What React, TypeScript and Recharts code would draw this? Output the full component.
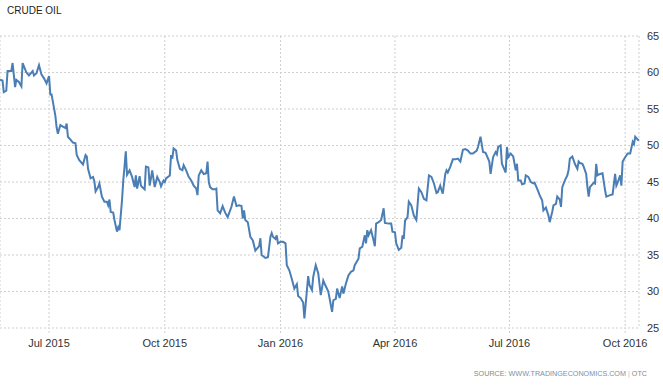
import React from 'react';
import { LineChart, Line, XAxis, YAxis, CartesianGrid } from 'recharts';

// --- Data ---

const dates = [
    '2015-05-23', '2015-05-25', '2015-05-26', '2015-05-28', '2015-05-29', '2015-06-01', '2015-06-02', '2015-06-04',
    '2015-06-05', '2015-06-07', '2015-06-09', '2015-06-10', '2015-06-13', '2015-06-15', '2015-06-18', '2015-06-19',
    '2015-06-21', '2015-06-23', '2015-06-25', '2015-06-27', '2015-06-29', '2015-07-01', '2015-07-02', '2015-07-03',
    '2015-07-06', '2015-07-07', '2015-07-08', '2015-07-10', '2015-07-12', '2015-07-14', '2015-07-15', '2015-07-16',
    '2015-07-18', '2015-07-20', '2015-07-22', '2015-07-23', '2015-07-25', '2015-07-28', '2015-07-30', '2015-07-31',
    '2015-08-01', '2015-08-03', '2015-08-05', '2015-08-06', '2015-08-07', '2015-08-09', '2015-08-10', '2015-08-12',
    '2015-08-14', '2015-08-16', '2015-08-17', '2015-08-18', '2015-08-19', '2015-08-21', '2015-08-22', '2015-08-24',
    '2015-08-25', '2015-08-26', '2015-08-28', '2015-08-29', '2015-08-30', '2015-08-31', '2015-09-01', '2015-09-03',
    '2015-09-05', '2015-09-07', '2015-09-08', '2015-09-09', '2015-09-11', '2015-09-12', '2015-09-13', '2015-09-15',
    '2015-09-16', '2015-09-18', '2015-09-19', '2015-09-20', '2015-09-21', '2015-09-23', '2015-09-25', '2015-09-27',
    '2015-09-28', '2015-09-30', '2015-10-01', '2015-10-02', '2015-10-05', '2015-10-06', '2015-10-07', '2015-10-08',
    '2015-10-10', '2015-10-11', '2015-10-13', '2015-10-15', '2015-10-16', '2015-10-18', '2015-10-20', '2015-10-22',
    '2015-10-24', '2015-10-26', '2015-10-27', '2015-10-28', '2015-10-30', '2015-11-01', '2015-11-03', '2015-11-04',
    '2015-11-05', '2015-11-06', '2015-11-08', '2015-11-10', '2015-11-11', '2015-11-12', '2015-11-14', '2015-11-16',
    '2015-11-18', '2015-11-20', '2015-11-23', '2015-11-25', '2015-11-27', '2015-11-29', '2015-12-01', '2015-12-02',
    '2015-12-03', '2015-12-04', '2015-12-06', '2015-12-08', '2015-12-10', '2015-12-12', '2015-12-14', '2015-12-15',
    '2015-12-16', '2015-12-17', '2015-12-20', '2015-12-22', '2015-12-24', '2015-12-25', '2015-12-26', '2015-12-28',
    '2015-12-29', '2015-12-30', '2016-01-01', '2016-01-03', '2016-01-05', '2016-01-06', '2016-01-08', '2016-01-10',
    '2016-01-12', '2016-01-14', '2016-01-15', '2016-01-17', '2016-01-19', '2016-01-20', '2016-01-23', '2016-01-24',
    '2016-01-26', '2016-01-27', '2016-01-29', '2016-01-31', '2016-02-02', '2016-02-04', '2016-02-05', '2016-02-08',
    '2016-02-11', '2016-02-12', '2016-02-14', '2016-02-15', '2016-02-17', '2016-02-19', '2016-02-20', '2016-02-22',
    '2016-02-24', '2016-02-26', '2016-02-28', '2016-02-29', '2016-03-03', '2016-03-04', '2016-03-06', '2016-03-08',
    '2016-03-09', '2016-03-10', '2016-03-11', '2016-03-13', '2016-03-15', '2016-03-16', '2016-03-17', '2016-03-19',
    '2016-03-21', '2016-03-23', '2016-03-24', '2016-03-27', '2016-03-29', '2016-03-30', '2016-04-01', '2016-04-02',
    '2016-04-04', '2016-04-06', '2016-04-07', '2016-04-08', '2016-04-09', '2016-04-11', '2016-04-12', '2016-04-14',
    '2016-04-16', '2016-04-18', '2016-04-20', '2016-04-22', '2016-04-24', '2016-04-26', '2016-04-28', '2016-04-30',
    '2016-05-02', '2016-05-04', '2016-05-05', '2016-05-07', '2016-05-08', '2016-05-09', '2016-05-11', '2016-05-12',
    '2016-05-13', '2016-05-15', '2016-05-17', '2016-05-19', '2016-05-21', '2016-05-23', '2016-05-25', '2016-05-27',
    '2016-05-29', '2016-05-31', '2016-06-02', '2016-06-05', '2016-06-06', '2016-06-08', '2016-06-10', '2016-06-12',
    '2016-06-13', '2016-06-15', '2016-06-16', '2016-06-18', '2016-06-20', '2016-06-21', '2016-06-22', '2016-06-24',
    '2016-06-25', '2016-06-26', '2016-06-28', '2016-06-29', '2016-06-30', '2016-07-02', '2016-07-04', '2016-07-06',
    '2016-07-07', '2016-07-08', '2016-07-10', '2016-07-11', '2016-07-13', '2016-07-14', '2016-07-16', '2016-07-18',
    '2016-07-20', '2016-07-21', '2016-07-23', '2016-07-25', '2016-07-27', '2016-07-28', '2016-07-30', '2016-08-01',
    '2016-08-02', '2016-08-04', '2016-08-05', '2016-08-07', '2016-08-08', '2016-08-10', '2016-08-11', '2016-08-12',
    '2016-08-14', '2016-08-16', '2016-08-17', '2016-08-18', '2016-08-20', '2016-08-22', '2016-08-24', '2016-08-25',
    '2016-08-26', '2016-08-28', '2016-08-29', '2016-08-31', '2016-09-01', '2016-09-02', '2016-09-03', '2016-09-04',
    '2016-09-06', '2016-09-07', '2016-09-08', '2016-09-09', '2016-09-11', '2016-09-13', '2016-09-15', '2016-09-16',
    '2016-09-19', '2016-09-21', '2016-09-23', '2016-09-24', '2016-09-25', '2016-09-27', '2016-09-28', '2016-09-29',
    '2016-10-01', '2016-10-03', '2016-10-05', '2016-10-07', '2016-10-08', '2016-10-09', '2016-10-11', '2016-10-12',
];

const prices = [
    59.0, 58.9, 57.3, 57.5, 60.2, 60.2, 61.3, 58.0,
    59.0, 58.7, 58.1, 61.3, 60.0, 59.6, 60.2, 59.6,
    59.9, 61.0, 59.7, 59.2, 58.5, 59.5, 57.0, 57.0,
    54.1, 52.5, 51.6, 52.8, 52.6, 52.4, 53.0, 51.2,
    50.8, 50.4, 50.3, 48.7, 48.0, 47.4, 48.7, 48.5,
    46.8, 45.5, 45.7, 45.1, 43.7, 44.3, 44.8, 43.0,
    42.3, 42.3, 41.8, 42.6, 40.9, 40.8, 39.8, 38.2,
    38.8, 38.4, 42.5, 45.2, 47.1, 49.2, 46.0, 46.6,
    45.7, 44.3, 45.9, 44.1, 45.8, 44.5, 44.3, 44.0,
    47.1, 47.0, 44.5, 45.5, 46.6, 44.3, 45.7, 45.0,
    44.4, 45.2, 45.0, 45.5, 45.9, 48.7, 48.2, 49.6,
    49.3, 48.0, 46.8, 46.6, 47.3, 46.6, 45.7, 45.2,
    44.5, 44.1, 43.2, 45.9, 46.6, 46.1, 46.2, 47.8,
    45.0, 44.3, 44.0, 44.0, 44.1, 41.1, 40.7, 41.7,
    40.8, 40.2, 41.6, 43.0, 41.7, 41.8, 41.7, 40.0,
    41.1, 39.8, 39.5, 37.5, 37.0, 35.6, 36.0, 36.2,
    37.3, 35.0, 34.6, 34.7, 37.5, 38.0, 37.5, 37.2,
    37.7, 36.6, 36.8, 36.8, 36.6, 33.6, 32.9, 31.7,
    30.4, 31.0, 29.4, 29.1, 28.5, 26.3, 32.1, 30.9,
    30.2, 32.0, 33.6, 32.5, 29.5, 31.5, 31.1, 30.0,
    27.2, 28.8, 29.0, 30.4, 29.1, 30.7, 29.7, 31.1,
    32.2, 32.7, 32.9, 33.6, 34.5, 35.9, 36.1, 37.7,
    36.6, 38.4, 37.7, 38.4, 37.0, 36.2, 39.3, 39.5,
    39.8, 41.4, 39.4, 39.3, 39.3, 38.2, 38.1, 36.6,
    35.7, 36.0, 37.7, 37.2, 39.7, 40.2, 42.3, 41.8,
    40.4, 39.8, 44.1, 43.6, 42.7, 42.5, 45.9, 45.7,
    44.8, 43.5, 43.6, 44.5, 43.9, 43.4, 46.1, 46.6,
    46.3, 47.1, 48.1, 48.1, 48.2, 47.8, 49.4, 49.5,
    49.3, 48.9, 48.9, 49.3, 49.8, 51.2, 49.1, 49.0,
    48.6, 47.8, 46.1, 48.4, 49.1, 48.8, 49.8, 50.0,
    47.5, 47.1, 46.3, 49.8, 48.4, 48.9, 48.5, 46.6,
    47.5, 45.2, 45.2, 44.7, 44.8, 45.9, 45.7, 45.0,
    44.8, 44.9, 44.1, 43.2, 42.5, 41.1, 41.5, 40.4,
    39.5, 40.9, 41.8, 42.0, 43.0, 42.6, 41.6, 44.3,
    45.2, 45.9, 46.6, 48.2, 48.5, 47.5, 46.8, 47.8,
    47.6, 47.5, 47.1, 46.1, 44.3, 43.0, 44.3, 44.5,
    44.9, 44.8, 47.5, 45.9, 46.1, 46.2, 43.9, 43.0,
    43.2, 43.3, 46.1, 44.5, 44.9, 45.9, 44.5, 47.8,
    48.4, 48.9, 48.9, 50.5, 50.2, 51.2, 50.8, 50.7,
];

const tickDates = ['2015-07-01', '2015-10-01', '2016-01-01', '2016-04-01', '2016-07-01', '2016-10-01'];
const tickLabels = ['Jul 2015', 'Oct 2015', 'Jan 2016', 'Apr 2016', 'Jul 2016', 'Oct 2016'];
const yTicks = [25, 30, 35, 40, 45, 50, 55, 60, 65];

const data = dates.map((d, i) => ({ t: Date.parse(d), price: prices[i] }));
const xTicks = tickDates.map((d) => Date.parse(d));

const font = '"Liberation Sans", Arial, sans-serif';
const gridColor = '#cfcfcf';

export default function App() {
    return (
        <div style={{ position: 'absolute', left: 0, top: 0, width: 663, height: 386, background: '#fff', fontFamily: font }}>
            <div style={{ position: 'absolute', left: 7, top: 5, fontSize: 10, color: '#222' }}>CRUDE OIL</div>
            <LineChart width={663} height={386} data={data} margin={{ top: 36, right: 0, left: 0, bottom: 28 }}>
                <CartesianGrid stroke={gridColor} strokeDasharray="2 2" />
                <XAxis
                    dataKey="t"
                    type="number"
                    domain={['dataMin', 'dataMax']}
                    ticks={xTicks}
                    tickFormatter={(v: number) => tickLabels[xTicks.indexOf(v)] ?? ''}
                    height={30}
                    axisLine={false}
                    tickLine={{ stroke: gridColor, strokeDasharray: '2 2' }}
                    tickSize={5}
                    tickMargin={6}
                    tick={{ fontSize: 11, fill: '#333', fontFamily: font }}
                    interval={0}
                />
                <YAxis
                    orientation="right"
                    domain={[25, 65]}
                    ticks={yTicks}
                    width={24}
                    axisLine={false}
                    tickLine={false}
                    tickMargin={2}
                    tick={{ fontSize: 11, fill: '#333', fontFamily: font }}
                    interval={0}
                />
                <Line
                    type="linear"
                    dataKey="price"
                    stroke="#4a7eb5"
                    strokeWidth={2}
                    dot={false}
                    isAnimationActive={false}
                />
            </LineChart>
            <div style={{ position: 'absolute', right: 16, top: 369, fontSize: 7.2, color: '#888', whiteSpace: 'nowrap' }}>
                SOURCE: <span style={{ color: '#7d8fa8' }}>WWW.TRADINGECONOMICS.COM</span>
                <span style={{ color: '#bbb' }}> | </span>OTC
            </div>
        </div>
    );
}
